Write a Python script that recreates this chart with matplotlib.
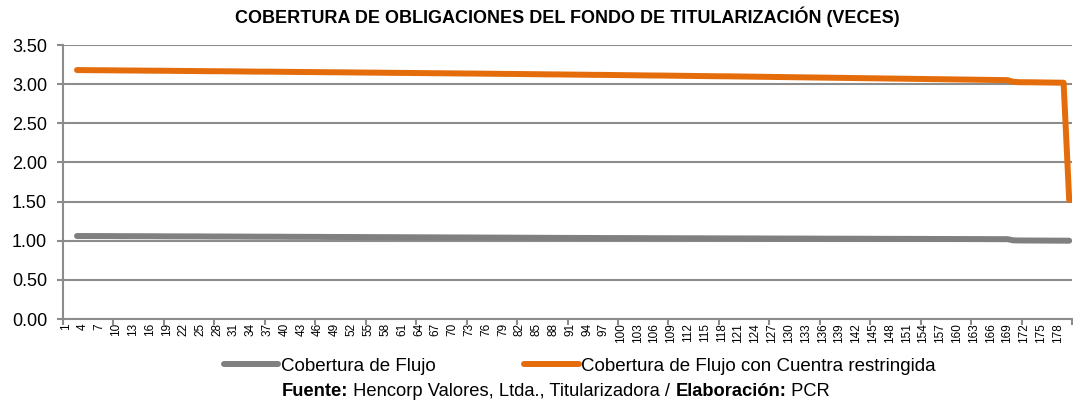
import numpy as np
import matplotlib.pyplot as plt

plt.rcParams['font.family'] = ['Liberation Sans', 'DejaVu Sans']

# periods 1..180 (first two periods have no value)
periods = list(range(1, 181))

flujo = [np.nan, np.nan,
    1.060, 1.060, 1.060, 1.059, 1.059, 1.059, 1.059, 1.058, 1.058, 1.058,
    1.058, 1.057, 1.057, 1.057, 1.057, 1.056, 1.056, 1.056, 1.056, 1.055,
    1.055, 1.055, 1.055, 1.054, 1.054, 1.054, 1.053, 1.053, 1.053, 1.053,
    1.052, 1.052, 1.052, 1.052, 1.051, 1.051, 1.051, 1.050, 1.050, 1.050,
    1.050, 1.049, 1.049, 1.049, 1.048, 1.048, 1.048, 1.048, 1.047, 1.047,
    1.047, 1.046, 1.046, 1.046, 1.046, 1.045, 1.045, 1.045, 1.044, 1.044,
    1.044, 1.044, 1.043, 1.043, 1.043, 1.042, 1.042, 1.042, 1.042, 1.041,
    1.041, 1.041, 1.040, 1.040, 1.040, 1.039, 1.039, 1.039, 1.039, 1.038,
    1.038, 1.038, 1.037, 1.037, 1.037, 1.036, 1.036, 1.036, 1.036, 1.035,
    1.035, 1.035, 1.035, 1.034, 1.034, 1.034, 1.034, 1.033, 1.033, 1.033,
    1.033, 1.033, 1.032, 1.032, 1.032, 1.032, 1.032, 1.031, 1.031, 1.031,
    1.031, 1.031, 1.030, 1.030, 1.030, 1.030, 1.030, 1.029, 1.029, 1.029,
    1.029, 1.029, 1.028, 1.028, 1.028, 1.028, 1.028, 1.027, 1.027, 1.027,
    1.027, 1.027, 1.026, 1.026, 1.026, 1.026, 1.026, 1.025, 1.025, 1.025,
    1.025, 1.025, 1.024, 1.024, 1.024, 1.024, 1.024, 1.023, 1.023, 1.023,
    1.023, 1.023, 1.022, 1.022, 1.022, 1.022, 1.022, 1.021, 1.021, 1.021,
    1.021, 1.021, 1.020, 1.020, 1.020, 1.020, 1.020, 1.005, 1.003, 1.003,
    1.002, 1.002, 1.002, 1.001, 1.001, 1.001, 1.000, 1.000]

flujo_cuenta = [np.nan, np.nan,
    3.180, 3.179, 3.179, 3.178, 3.178, 3.177, 3.176, 3.176, 3.175, 3.175,
    3.174, 3.173, 3.173, 3.172, 3.172, 3.171, 3.170, 3.170, 3.169, 3.169,
    3.168, 3.167, 3.167, 3.166, 3.165, 3.165, 3.164, 3.164, 3.163, 3.162,
    3.162, 3.161, 3.160, 3.160, 3.159, 3.159, 3.158, 3.157, 3.157, 3.156,
    3.155, 3.155, 3.154, 3.153, 3.153, 3.152, 3.152, 3.151, 3.150, 3.150,
    3.149, 3.148, 3.148, 3.147, 3.146, 3.146, 3.145, 3.144, 3.144, 3.143,
    3.142, 3.142, 3.141, 3.140, 3.140, 3.139, 3.138, 3.138, 3.137, 3.136,
    3.136, 3.135, 3.134, 3.133, 3.133, 3.132, 3.131, 3.131, 3.130, 3.129,
    3.128, 3.128, 3.127, 3.126, 3.125, 3.125, 3.124, 3.123, 3.122, 3.122,
    3.121, 3.120, 3.119, 3.119, 3.118, 3.117, 3.116, 3.115, 3.115, 3.114,
    3.113, 3.112, 3.111, 3.111, 3.110, 3.109, 3.108, 3.107, 3.107, 3.106,
    3.105, 3.104, 3.103, 3.102, 3.101, 3.101, 3.100, 3.099, 3.098, 3.097,
    3.096, 3.095, 3.094, 3.094, 3.093, 3.092, 3.091, 3.090, 3.089, 3.088,
    3.087, 3.086, 3.085, 3.084, 3.083, 3.082, 3.081, 3.080, 3.079, 3.078,
    3.077, 3.076, 3.075, 3.074, 3.073, 3.072, 3.071, 3.070, 3.069, 3.068,
    3.067, 3.066, 3.065, 3.064, 3.063, 3.062, 3.061, 3.060, 3.059, 3.058,
    3.057, 3.056, 3.055, 3.054, 3.053, 3.052, 3.051, 3.030, 3.025, 3.025,
    3.024, 3.023, 3.022, 3.021, 3.020, 3.019, 3.018, 1.520]

y_ticks = [0.0, 0.5, 1.0, 1.5, 2.0, 2.5, 3.0, 3.5]
label_periods = periods[::3]

gray = '#808080'
orange = '#E46C0A'
grid_c = '#8C8C8C'

W, H = 1073, 405
fig = plt.figure(figsize=(W / 100, H / 100), dpi=100)
ax = fig.add_axes([63 / W, 1 - 319 / H, 1009 / W, 274 / H])

ax.plot(periods, flujo, color=gray, lw=4.3, solid_capstyle='round',
        solid_joinstyle='round', label='Cobertura de Flujo')
ax.plot(periods, flujo_cuenta, color=orange, lw=4.3, solid_capstyle='round',
        solid_joinstyle='round', label='Cobertura de Flujo con Cuentra restringida')

ax.set_xlim(0.5, 180.5)
ax.set_ylim(0, 3.5)
ax.set_yticks(y_ticks)
ax.set_yticklabels([f'{v:.2f}' for v in y_ticks], fontsize=13)
ax.yaxis.grid(True, color=grid_c, lw=1.5)
ax.set_axisbelow(True)
ax.tick_params(axis='y', length=4.5, width=1.5, color=grid_c, pad=7)

ax.set_xticks(label_periods)
ax.set_xticklabels([str(p) for p in label_periods], rotation=90, fontsize=8.5)
ax.tick_params(axis='x', which='major', length=0, pad=3)
ax.set_xticks(np.arange(0.5, 181, 9), minor=True)
ax.tick_params(axis='x', which='minor', length=4, width=1.5, color=grid_c, direction='out')

for s in ['top', 'right']:
    ax.spines[s].set_visible(False)
for s in ['left', 'bottom']:
    ax.spines[s].set_color(grid_c)
    ax.spines[s].set_linewidth(1.5)

fig.text(567 / W, 1 - 17 / H, 'COBERTURA DE OBLIGACIONES DEL FONDO DE TITULARIZACIÓN (VECES)',
         ha='center', va='center', fontsize=13, fontweight='bold')

fig.legend(loc='center', bbox_to_anchor=(580 / W, 1 - 366 / H), ncol=2,
           frameon=False, fontsize=13.5, handlelength=2.9, handletextpad=0.15,
           columnspacing=4.7, borderpad=0)

# source line with bold parts
parts = [('Fuente:', 'bold'), (' Hencorp Valores, Ltda., Titularizadora / ', 'normal'),
         ('Elaboración:', 'bold'), (' PCR', 'normal')]
fig.canvas.draw()
renderer = fig.canvas.get_renderer()
texts = []
widths = []
for s, w in parts:
    t = fig.text(0, 1 - 391 / H, s, fontsize=13.2, fontweight=w, va='center', ha='left')
    texts.append(t)
    widths.append(t.get_window_extent(renderer).width)
x = 282
for t, wd in zip(texts, widths):
    t.set_x(x / W)
    x += wd

fig.savefig('out.png', dpi=100)
